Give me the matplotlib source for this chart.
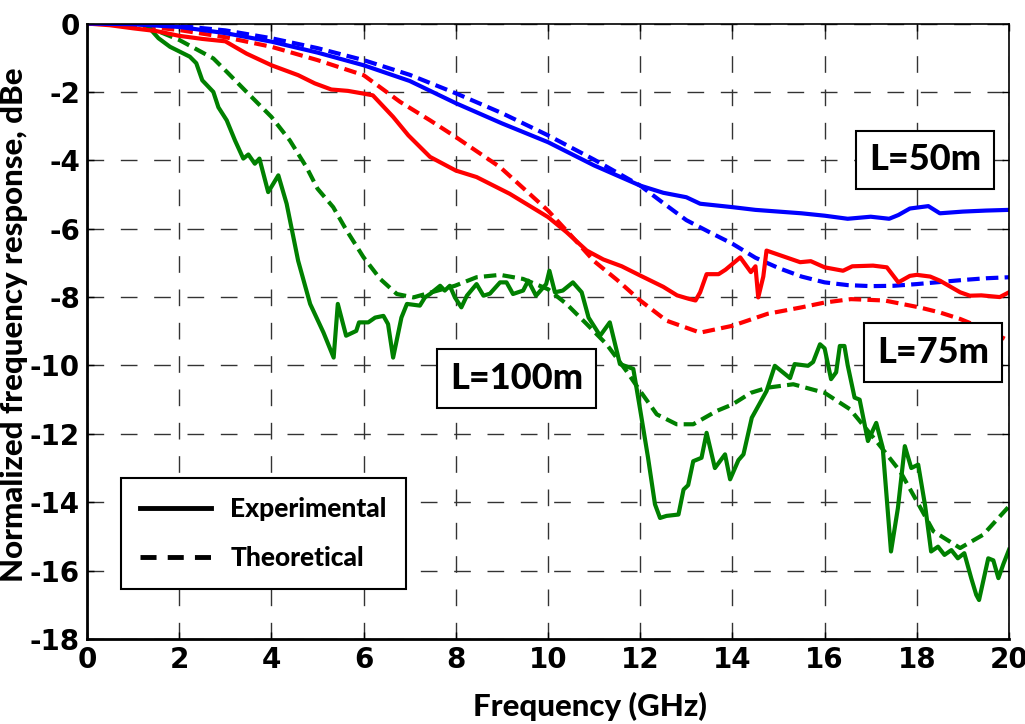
import matplotlib
matplotlib.use('Agg')
import matplotlib.pyplot as plt
from matplotlib.lines import Line2D

# L=50m
x_b_exp = [0, 1, 2, 3, 4, 5, 6, 7, 8, 9, 10, 11, 12, 12.5, 13, 13.3, 14, 14.5, 15, 15.5,
           16, 16.5, 17, 17.4, 17.6, 17.85, 18.25, 18.5, 19, 19.5, 20]
y_b_exp = [0, -0.02, -0.1, -0.28, -0.53, -0.85, -1.22, -1.68, -2.33, -2.92, -3.47, -4.15,
           -4.74, -4.95, -5.08, -5.27, -5.37, -5.45, -5.5, -5.55, -5.62, -5.71, -5.65,
           -5.71, -5.6, -5.41, -5.34, -5.55, -5.5, -5.47, -5.45]
x_b_th = [0, 1, 2, 3, 4, 5, 6, 7, 8, 9, 10, 11, 12, 12.5, 13, 13.5, 14, 14.5, 15, 15.5,
          16, 16.5, 17, 17.5, 18, 18.5, 19, 19.5, 20]
y_b_th = [0, -0.01, -0.07, -0.2, -0.43, -0.72, -1.07, -1.5, -2.04, -2.62, -3.27, -3.98,
          -4.74, -5.25, -5.75, -6.1, -6.44, -6.85, -7.15, -7.4, -7.57, -7.65, -7.68,
          -7.67, -7.62, -7.56, -7.5, -7.45, -7.42]

# L=75m
x_r_exp = [0, 0.5, 1, 1.5, 2, 2.5, 3, 3.46, 4, 4.58, 4.94, 5.3, 5.66, 6.0, 6.2, 6.64,
           6.97, 7.44, 8, 8.45, 9.17, 10, 10.4, 10.84, 11.2, 11.6, 12, 12.5, 12.8, 13.05,
           13.2, 13.3, 13.44, 13.7, 13.85, 14.17, 14.4, 14.5, 14.56, 14.67, 14.74, 15.17,
           15.47, 15.7, 16, 16.4, 16.6, 17.05, 17.35, 17.6, 17.85, 18.0, 18.29, 18.5,
           18.94, 19.15, 19.4, 19.8, 20]
y_r_exp = [0, -0.05, -0.14, -0.22, -0.36, -0.45, -0.52, -0.88, -1.22, -1.51, -1.75,
           -1.93, -1.97, -2.05, -2.1, -2.73, -3.27, -3.9, -4.3, -4.49, -4.98, -5.66, -6.1,
           -6.64, -6.9, -7.1, -7.37, -7.7, -7.95, -8.05, -8.1, -7.86, -7.33, -7.33, -7.2,
           -6.84, -7.27, -7.1, -8.01, -7.4, -6.64, -6.84, -6.98, -6.95, -7.13, -7.23,
           -7.1, -7.08, -7.13, -7.57, -7.38, -7.35, -7.4, -7.52, -7.86, -7.96, -7.95,
           -8.0, -7.86]
x_r_th = [0, 1, 2, 3, 4, 5, 6, 6.79, 7.44, 8, 8.96, 10, 10.5, 11, 11.5, 12, 12.57, 13.3,
          14, 14.76, 15.5, 16, 16.57, 17.3, 18.05, 18.5, 18.94, 19.5, 20]
y_r_th = [0, -0.05, -0.19, -0.4, -0.68, -1.07, -1.51, -2.29, -2.83, -3.32, -4.2, -5.47,
          -6.2, -6.95, -7.5, -8.1, -8.69, -9.04, -8.84, -8.49, -8.3, -8.16, -8.06, -8.1,
          -8.3, -8.45, -8.64, -8.95, -9.28]

# L=100m
x_g_exp = [0, 1.0, 1.3, 1.55, 1.8, 2.23, 2.37, 2.5, 2.74, 2.85, 3.03, 3.21, 3.39, 3.5,
           3.64, 3.74, 3.93, 4.15, 4.33, 4.58, 4.84, 5.13, 5.35, 5.44, 5.62, 5.84, 5.9,
           6.1, 6.25, 6.43, 6.53, 6.64, 6.82, 6.94, 7.22, 7.33, 7.44, 7.66, 7.76, 7.87,
           7.98, 8.12, 8.24, 8.45, 8.6, 8.74, 8.96, 9.1, 9.24, 9.46, 9.57, 9.74, 9.96,
           10.03, 10.15, 10.32, 10.54, 10.73, 10.88, 11.13, 11.34, 11.56, 11.85, 12.0,
           12.17, 12.32, 12.43, 12.57, 12.83, 12.94, 13.04, 13.15, 13.33, 13.44, 13.62,
           13.84, 13.95, 14.13, 14.24, 14.42, 14.74, 14.92, 15.25, 15.35, 15.64, 15.75,
           15.9, 16.0, 16.14, 16.25, 16.33, 16.43, 16.5, 16.65, 16.76, 16.94, 17.12,
           17.26, 17.44, 17.59, 17.74, 17.88, 18.03, 18.18, 18.31, 18.46, 18.6, 18.75,
           18.89, 19.03, 19.18, 19.29, 19.35, 19.55, 19.66, 19.77, 19.88, 20]
y_g_exp = [0, 0, -0.05, -0.43, -0.68, -0.97, -1.16, -1.66, -2.0, -2.45, -2.83, -3.42,
           -3.95, -3.83, -4.1, -3.95, -4.93, -4.44, -5.27, -6.94, -8.2, -9.04, -9.77,
           -8.2, -9.13, -8.99, -8.74, -8.74, -8.6, -8.55, -8.79, -9.77, -8.6, -8.2, -8.25,
           -8.01, -7.91, -7.67, -7.81, -7.67, -8.01, -8.3, -7.96, -7.62, -7.96, -7.9,
           -7.57, -7.57, -7.91, -7.81, -7.52, -7.96, -7.62, -7.23, -7.86, -7.81, -7.57,
           -7.86, -8.6, -9.13, -8.74, -9.96, -10.1, -11.3, -12.7, -14.06, -14.46, -14.4,
           -14.36, -13.63, -13.5, -12.8, -12.7, -11.97, -13.0, -12.6, -13.33, -12.77,
           -12.6, -11.53, -10.75, -10.01, -10.37, -9.96, -10.01, -9.9, -9.38, -9.5,
           -10.4, -10.2, -9.43, -9.43, -9.99, -10.94, -11.0, -12.21, -11.68, -12.4,
           -15.44, -14.17, -12.36, -13.0, -12.9, -14.1, -15.44, -15.3, -15.54, -15.4,
           -15.64, -15.49, -16.22, -16.71, -16.86, -15.64, -15.7, -16.22, -15.8, -15.39]
x_g_th = [0, 1.0, 1.5, 2, 2.74, 3.03, 3.46, 4, 4.4, 4.76, 5.0, 5.34, 5.63, 6.0, 6.36,
          6.72, 7.08, 7.5, 7.98, 8.45, 8.96, 9.46, 10, 10.4, 10.84, 11.27, 11.7, 12,
          12.36, 12.79, 13.15, 13.66, 14, 14.4, 14.76, 15.32, 16, 16.55, 17.12, 17.64,
          18, 18.36, 18.94, 19.44, 20]
y_g_th = [0, -0.02, -0.2, -0.48, -1.02, -1.41, -2.0, -2.73, -3.42, -4.2, -4.83, -5.37,
          -6.05, -6.84, -7.47, -7.91, -8.01, -7.85, -7.67, -7.42, -7.35, -7.47, -7.77,
          -8.2, -8.79, -9.38, -10.16, -10.75, -11.43, -11.72, -11.72, -11.33, -11.14,
          -10.8, -10.65, -10.55, -10.8, -11.28, -12.21, -13.1, -13.97, -14.85, -15.34,
          -14.95, -14.12]

xticks = [0, 2, 4, 6, 8, 10, 12, 14, 16, 18, 20]
yticks = [0, -2, -4, -6, -8, -10, -12, -14, -16, -18]

tickfont = {'family': 'Liberation Sans Narrow', 'weight': 'bold', 'size': 20}
labelfont = {'family': 'Lato', 'weight': 'black'}

fig = plt.figure(figsize=(10.25, 7.24), dpi=100)
ax = fig.add_axes([0.0849, 0.1174, 0.8995, 0.8501])

lw = 3
dash = (3, 1.5)
ax.plot(x_g_th, y_g_th, color='#008000', lw=lw, dashes=dash)
ax.plot(x_r_th, y_r_th, color='#ff0000', lw=lw, dashes=dash)
ax.plot(x_b_th, y_b_th, color='#0000ff', lw=lw, dashes=dash)
ax.plot(x_g_exp, y_g_exp, color='#008000', lw=lw)
ax.plot(x_r_exp, y_r_exp, color='#ff0000', lw=lw)
ax.plot(x_b_exp, y_b_exp, color='#0000ff', lw=lw)

ax.set_xlim(0, 20)
ax.set_ylim(-18, 0)
ax.set_xticks(xticks)
ax.set_yticks(yticks)
ax.set_xticklabels([str(t) for t in xticks], fontdict=tickfont)
ax.set_yticklabels([str(t) for t in yticks], fontdict=tickfont)
ax.tick_params(direction='in', length=5, width=1, top=True, right=True, pad=5)
ax.grid(True, color='#333333', lw=1.0, linestyle=(0, (12, 12)))
for s in ax.spines.values():
    s.set_linewidth(1.2)
ax.spines['left'].set_linewidth(2)
ax.spines['bottom'].set_linewidth(2)

ax.set_xlabel('Frequency (GHz)', fontsize=22.5, **labelfont)
ax.xaxis.set_label_coords(0.546, -0.086)
ax.set_ylabel('Normalized frequency response, dBe', fontsize=22.5, **labelfont)
ax.yaxis.set_label_coords(-0.064, 0.51)

box = dict(boxstyle='square,pad=0.35', facecolor='white', edgecolor='black', lw=1.5)
ax.text(18.18, -3.99, 'L=50m', fontsize=26, ha='center', va='center', bbox=box,
        zorder=6, **labelfont)
ax.text(18.35, -9.62, 'L=75m', fontsize=26, ha='center', va='center', bbox=box,
        zorder=6, **labelfont)
ax.text(9.32, -10.38, 'L=100m', fontsize=26, ha='center', va='center', bbox=box,
        zorder=6, **labelfont)

handles = [Line2D([], [], color='black', lw=3.5),
           Line2D([], [], color='black', lw=3.5, dashes=(3.3, 2.3))]
leg = ax.legend(handles, ['Experimental', 'Theoretical'], loc='upper left',
                bbox_to_anchor=(0.037, 0.262), borderaxespad=0, fancybox=False,
                edgecolor='black', framealpha=1, handlelength=2.7, handletextpad=0.72,
                labelspacing=0.95, borderpad=0.72,
                prop={'family': 'Lato', 'weight': 'black', 'size': 19})
leg.get_frame().set_linewidth(1.5)
leg.set_zorder(6)

fig.savefig('out.png', dpi=100)
